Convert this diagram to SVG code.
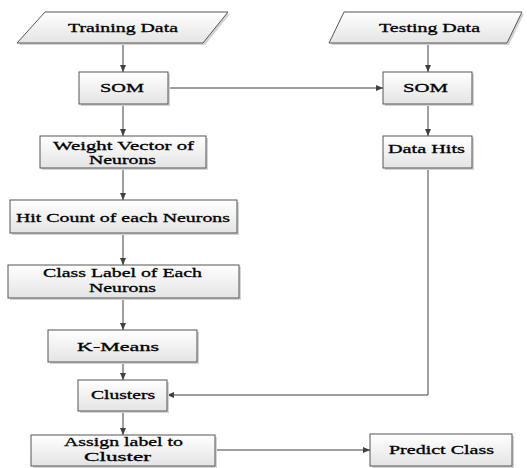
<svg xmlns="http://www.w3.org/2000/svg" width="527" height="468" viewBox="0 0 527 468">
<defs>
<linearGradient id="g" x1="0" y1="0" x2="0" y2="1">
<stop offset="0" stop-color="#ffffff"/>
<stop offset="1" stop-color="#e4e4e4"/>
</linearGradient>
<marker id="ah" markerWidth="7" markerHeight="6" refX="7" refY="3" orient="auto" markerUnits="userSpaceOnUse">
<path d="M0,0 L7,3 L0,6 Z" fill="#404040"/>
</marker>
</defs>
<style>
.b{fill:url(#g);stroke:#555;stroke-width:1}
.s{fill:#d4d4d4;stroke:none}
text{font-family:"Liberation Serif","Times New Roman",serif;font-size:13px;font-weight:normal;fill:#000;text-anchor:middle;stroke:#000;stroke-width:0.3}
.c{fill:none;stroke:#404040;stroke-width:1;marker-end:url(#ah)}
</style>
<rect width="527" height="468" fill="#ffffff"/>
<g id="connectors">
<line class="c" x1="123" y1="43" x2="123" y2="72"/>
<line class="c" x1="123" y1="104" x2="123" y2="136"/>
<line class="c" x1="123" y1="168" x2="123" y2="200"/>
<line class="c" x1="123" y1="233" x2="123" y2="265"/>
<line class="c" x1="123" y1="298" x2="123" y2="330"/>
<line class="c" x1="123" y1="362" x2="123" y2="380"/>
<line class="c" x1="123" y1="411" x2="123" y2="435"/>
<line class="c" x1="168" y1="88" x2="383" y2="88"/>
<line class="c" x1="428" y1="43" x2="428" y2="72"/>
<line class="c" x1="428" y1="104" x2="428" y2="136"/>
<polyline class="c" points="428,168 428,395 167,395"/>
<line class="c" x1="215" y1="450" x2="370" y2="450"/>
</g>
<g id="training-data">
<polygon class="s" points="47,14 230,14 205,45 19,45"/>
<polygon class="b" points="45,12 228,12 203,43 17,43"/>
<text x="123" y="32" textLength="110" lengthAdjust="spacingAndGlyphs">Training Data</text>
</g>
<g id="som-left">
<rect class="s" x="81" y="74" width="89" height="32"/>
<rect class="b" x="79" y="72" width="89" height="32"/>
<text x="122" y="92" textLength="44" lengthAdjust="spacingAndGlyphs">SOM</text>
</g>
<g id="weight-vector">
<rect class="s" x="42" y="138" width="166" height="32"/>
<rect class="b" x="40" y="136" width="166" height="32"/>
<text x="123.5" y="150" textLength="141" lengthAdjust="spacingAndGlyphs">Weight Vector of</text>
<text x="122.5" y="164" textLength="67" lengthAdjust="spacingAndGlyphs">Neurons</text>
</g>
<g id="hit-count">
<rect class="s" x="12" y="202" width="227" height="33"/>
<rect class="b" x="10" y="200" width="227" height="33"/>
<text x="123" y="222" textLength="214" lengthAdjust="spacingAndGlyphs">Hit Count of each Neurons</text>
</g>
<g id="class-label">
<rect class="s" x="10" y="267" width="231" height="33"/>
<rect class="b" x="8" y="265" width="231" height="33"/>
<text x="122.5" y="277" textLength="159" lengthAdjust="spacingAndGlyphs">Class Label of Each</text>
<text x="122.5" y="292" textLength="67" lengthAdjust="spacingAndGlyphs">Neurons</text>
</g>
<g id="k-means">
<rect class="s" x="50" y="332" width="149" height="32"/>
<rect class="b" x="48" y="330" width="149" height="32"/>
<text x="118" y="351" textLength="82" lengthAdjust="spacingAndGlyphs">K-Means</text>
</g>
<g id="clusters">
<rect class="s" x="80" y="382" width="89" height="31"/>
<rect class="b" x="78" y="380" width="89" height="31"/>
<text x="123" y="399" textLength="64" lengthAdjust="spacingAndGlyphs">Clusters</text>
</g>
<g id="assign-label">
<rect class="s" x="33" y="437" width="184" height="31"/>
<rect class="b" x="31" y="435" width="184" height="31"/>
<text x="123.5" y="446" textLength="119" lengthAdjust="spacingAndGlyphs">Assign label to</text>
<text x="117.5" y="461" textLength="67" lengthAdjust="spacingAndGlyphs">Cluster</text>
</g>
<g id="testing-data">
<polygon class="s" points="346,14 524,14 509,45 331,45"/>
<polygon class="b" points="344,12 522,12 507,43 329,43"/>
<text x="429.5" y="32" textLength="101" lengthAdjust="spacingAndGlyphs">Testing Data</text>
</g>
<g id="som-right">
<rect class="s" x="385" y="74" width="89" height="32"/>
<rect class="b" x="383" y="72" width="89" height="32"/>
<text x="425.5" y="92" textLength="45" lengthAdjust="spacingAndGlyphs">SOM</text>
</g>
<g id="data-hits">
<rect class="s" x="385" y="138" width="89" height="32"/>
<rect class="b" x="383" y="136" width="89" height="32"/>
<text x="426.5" y="153" textLength="77" lengthAdjust="spacingAndGlyphs">Data Hits</text>
</g>
<g id="predict-class">
<rect class="s" x="372" y="436" width="142" height="32"/>
<rect class="b" x="370" y="434" width="142" height="32"/>
<text x="441.5" y="454" textLength="105" lengthAdjust="spacingAndGlyphs">Predict Class</text>
</g>
</svg>
